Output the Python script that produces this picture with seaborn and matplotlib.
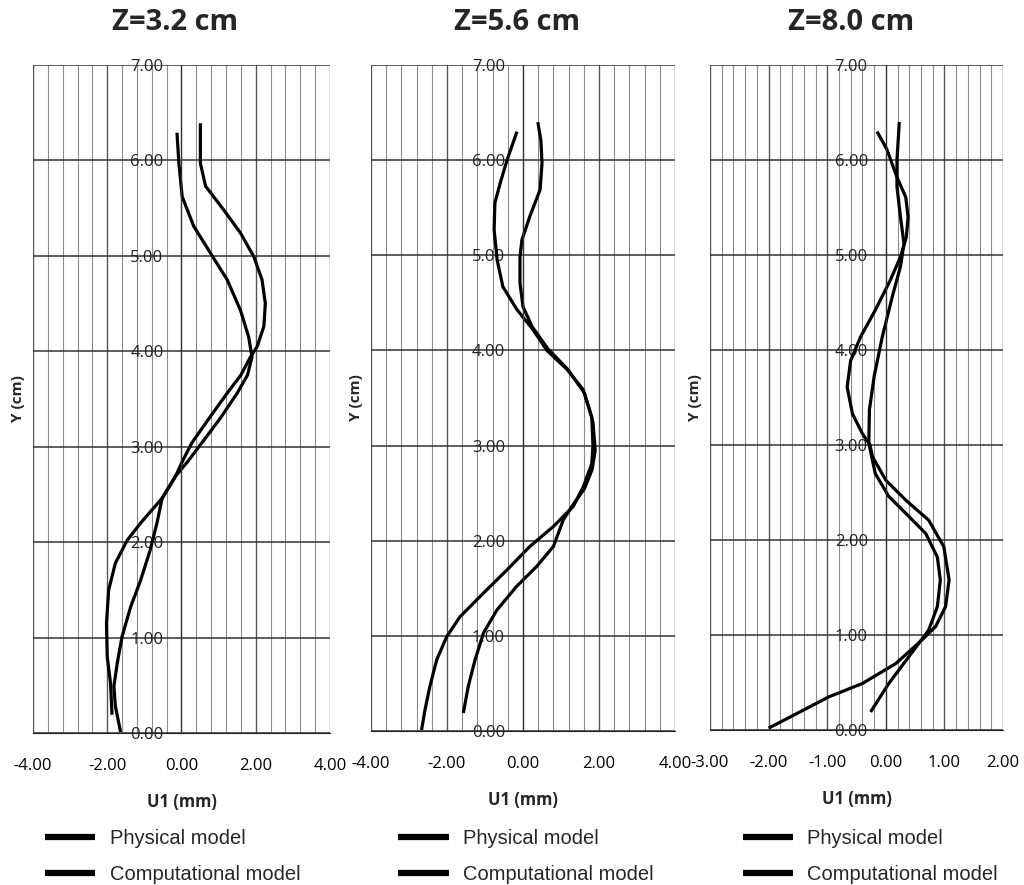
# Perfiles de desplazamiento U1 frente a Y para tres secciones Z
import pandas as pd
import matplotlib
matplotlib.use("Agg")
import matplotlib.pyplot as plt
from matplotlib.ticker import MultipleLocator, FormatStrFormatter
import seaborn as sns

# Datos
# -----------------------------------------------------------------------
titulos = ["Z=3.2 cm", "Z=5.6 cm", "Z=8.0 cm"]
modelos = ["Physical model", "Computational model"]

# Z=3.2 cm
u_fis_32 = [0.51, 0.51, 0.65, 1.14, 1.59, 1.95, 2.17, 2.26, 2.22, 2.04, 1.86, 1.60,
            1.23, 0.75, 0.28, 0.03, -0.16, -0.52, -0.66, -0.84, -1.10, -1.37, -1.60,
            -1.73, -1.82, -1.78, -1.64]
y_fis_32 = [6.39, 5.97, 5.73, 5.48, 5.24, 4.99, 4.75, 4.50, 4.26, 4.05, 3.94, 3.75,
            3.56, 3.30, 3.04, 2.85, 2.69, 2.46, 2.20, 1.92, 1.60, 1.32, 1.01,
            0.73, 0.49, 0.28, 0.01]
u_comp_32 = [-0.12, -0.07, 0.02, 0.33, 0.78, 1.23, 1.59, 1.81, 1.90, 1.78, 1.50, 1.05,
             0.55, 0.18, -0.16, -0.52, -1.10, -1.46, -1.78, -1.96, -2.02, -2.00, -1.91,
             -1.87]
y_comp_32 = [6.29, 5.97, 5.62, 5.31, 5.03, 4.75, 4.43, 4.15, 3.94, 3.75, 3.56, 3.30,
             3.04, 2.85, 2.69, 2.46, 2.20, 2.02, 1.78, 1.50, 1.15, 0.80, 0.52,
             0.19]

# Z=5.6 cm
u_fis_56 = [-0.16, -0.42, -0.60, -0.74, -0.76, -0.68, -0.53, -0.16, 0.26, 0.63, 1.16,
            1.58, 1.81, 1.84, 1.81, 1.59, 1.32, 0.80, 0.18, -0.43, -1.04, -1.66,
            -2.01, -2.27, -2.45, -2.58, -2.67]
y_fis_56 = [6.30, 6.00, 5.76, 5.55, 5.27, 4.95, 4.67, 4.43, 4.22, 4.00, 3.80,
            3.59, 3.30, 3.00, 2.81, 2.57, 2.36, 2.15, 1.94, 1.69, 1.45, 1.20,
            0.99, 0.75, 0.47, 0.22, 0.01]
u_comp_56 = [0.39, 0.47, 0.50, 0.45, 0.18, -0.03, -0.08, -0.08, 0.00, 0.24, 0.65, 1.18,
             1.62, 1.84, 1.90, 1.82, 1.62, 1.32, 1.06, 0.80, 0.36, -0.17, -0.69,
             -1.04, -1.26, -1.44, -1.57]
y_comp_56 = [6.40, 6.21, 5.97, 5.69, 5.41, 5.16, 4.98, 4.71, 4.46, 4.25, 4.02, 3.80,
             3.55, 3.25, 2.95, 2.75, 2.55, 2.38, 2.22, 1.94, 1.73, 1.52, 1.27,
             1.03, 0.75, 0.47, 0.19]

# Z=8.0 cm
u_fis_80 = [-0.15, 0.02, 0.19, 0.34, 0.38, 0.35, 0.25, 0.08, -0.18, -0.43, -0.60, -0.66,
            -0.57, -0.40, -0.27, -0.23, 0.00, 0.34, 0.73, 0.99, 1.08, 1.02, 0.85,
            0.62, 0.17, -0.40, -0.97, -1.50, -2.00]
y_fis_80 = [6.30, 6.11, 5.82, 5.61, 5.40, 5.19, 4.98, 4.74, 4.42, 4.14, 3.89, 3.61,
            3.33, 3.12, 3.00, 2.88, 2.63, 2.42, 2.21, 1.93, 1.58, 1.30, 1.09,
            0.95, 0.70, 0.49, 0.35, 0.18, 0.02]
u_comp_80 = [0.23, 0.19, 0.19, 0.25, 0.31, 0.25, 0.11, -0.06, -0.20, -0.28, -0.29,
             -0.18, 0.05, 0.39, 0.68, 0.88, 0.93, 0.88, 0.73, 0.56, 0.39, 0.05, -0.26]
y_comp_80 = [6.40, 6.00, 5.72, 5.40, 5.12, 4.88, 4.56, 4.14, 3.72, 3.37, 3.02,
             2.70, 2.46, 2.25, 2.07, 1.82, 1.58, 1.30, 1.05, 0.91, 0.77, 0.49, 0.19]

u_fis = [u_fis_32, u_fis_56, u_fis_80]
y_fis = [y_fis_32, y_fis_56, y_fis_80]
u_comp = [u_comp_32, u_comp_56, u_comp_80]
y_comp = [y_comp_32, y_comp_56, y_comp_80]

# Configuracion de ejes
x_limites = [(-4, 4), (-4, 4), (-3, 2)]
x_mayor = [2, 2, 1]
x_menor = [0.4, 0.4, 0.2]

sns.set_style("white")
plt.rcParams["font.family"] = ["Open Sans", "DejaVu Sans"]

fig = plt.figure(figsize=(10.24, 8.85), dpi=100)
posiciones = [[0.0322, 0.1718, 0.2900, 0.7548],
              [0.3623, 0.1740, 0.2969, 0.7525],
              [0.6934, 0.1751, 0.2861, 0.7514]]
leyenda_pos = [(0.044, 0.0633), (0.389, 0.0633), (0.7256, 0.0633)]

for i in range(3):
    ax = fig.add_axes(posiciones[i])
    df = pd.concat([
        pd.DataFrame({"U1": u_fis[i], "Y": y_fis[i], "modelo": modelos[0]}),
        pd.DataFrame({"U1": u_comp[i], "Y": y_comp[i], "modelo": modelos[1]}),
    ], ignore_index=True)
    sns.lineplot(data=df, x="U1", y="Y", hue="modelo", palette=["black", "black"],
                 sort=False, estimator=None, lw=2.3, solid_joinstyle="round",
                 solid_capstyle="butt", ax=ax)

    ax.set_xlim(*x_limites[i])
    ax.set_ylim(0, 7)
    ax.xaxis.set_major_locator(MultipleLocator(x_mayor[i]))
    ax.xaxis.set_minor_locator(MultipleLocator(x_menor[i]))
    ax.yaxis.set_major_locator(MultipleLocator(1))
    ax.xaxis.set_major_formatter(FormatStrFormatter("%.2f"))
    ax.yaxis.set_major_formatter(FormatStrFormatter("%.2f"))

    # rejilla tipo Excel
    ax.grid(which="minor", axis="x", color="#8c8c8c", lw=0.8)
    ax.grid(which="major", axis="x", color="#555555", lw=1.0)
    ax.grid(which="major", axis="y", color="#333333", lw=1.1)
    ax.set_axisbelow(True)

    # eje Y cruzando en U1 = 0
    ax.spines["left"].set_position(("data", 0))
    ax.spines["left"].set_color("#333333")
    ax.spines["bottom"].set_color("#222222")
    ax.spines["top"].set_visible(False)
    ax.spines["right"].set_visible(False)

    ax.tick_params(axis="x", which="major", direction="out", length=5, width=1,
                   pad=13, labelsize=12, colors="black")
    ax.tick_params(axis="x", which="minor", length=0)
    ax.tick_params(axis="y", length=0, pad=13, labelsize=12, colors="#222222")

    ax.set_xlabel("U1 (mm)", fontsize=12, fontweight="bold")
    ax.xaxis.set_label_coords(0.5, -0.103)
    ax.xaxis.label.set_va("center")
    ax.set_ylabel("Y (cm)", fontsize=11, fontweight="bold")
    ax.yaxis.set_label_coords(-0.05, 0.5)
    ax.yaxis.label.set_va("center")

    ax.text(0.48, 1.064, titulos[i], transform=ax.transAxes, ha="center",
            va="center", fontsize=21, fontweight="bold")

    leg = ax.legend(loc="upper left", bbox_to_anchor=leyenda_pos[i],
                    bbox_transform=fig.transFigure, frameon=False, borderpad=0,
                    borderaxespad=0, handlelength=2.5, handletextpad=0.7,
                    labelspacing=0.85, prop={"family": "Liberation Sans", "size": 14.5})
    for linea in leg.get_lines():
        linea.set_linewidth(4.5)

fig.savefig("out.png", dpi=100, facecolor="white")
